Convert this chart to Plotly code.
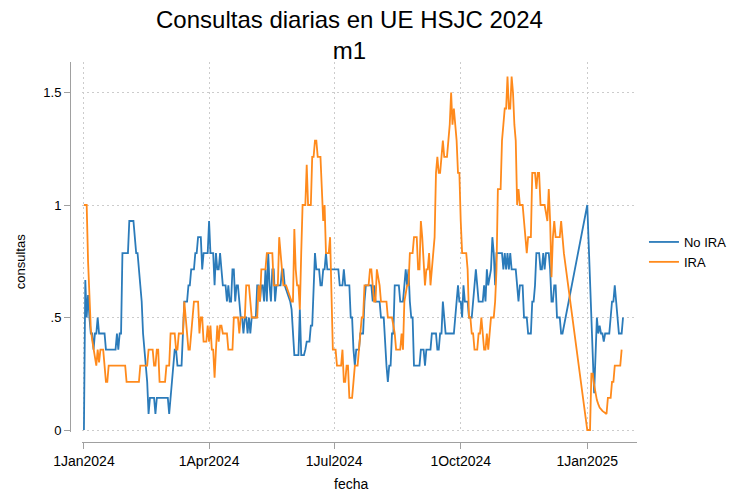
import pandas as pd
import plotly.graph_objects as go

# ---- data (day offset from 1 Jan 2024, value) ----
noira_day = [0, 1, 2, 3, 4, 5, 6, 7, 8, 9, 10, 11, 15, 16, 23, 24, 25, 26, 27, 28, 32, 33, 36, 37, 38, 39, 40, 41, 42, 43, 44, 45,
             46, 47, 48, 51, 52, 53, 61, 62, 63, 64, 65, 66, 67, 68, 71, 72, 73, 75, 76, 77, 78, 80, 81, 82, 83, 85, 86, 87, 89, 90,
             91, 92, 94, 95, 96, 97, 98, 99, 100, 101, 103, 104, 105, 106, 107, 108, 109, 110, 111, 112, 113, 114, 115, 116, 117,
             118, 119, 120, 121, 122, 125, 126, 127, 128, 129, 130, 131, 132, 133, 134, 135, 136, 137, 138, 139, 140, 143, 144, 145,
             146, 148, 150, 151, 152, 153, 156, 157, 158, 160, 161, 162, 164, 165, 166, 167, 168, 169, 171, 172, 173, 174, 175, 176,
             177, 185, 186, 188, 189, 190, 193, 194, 195, 196, 197, 198, 200, 201, 203, 204, 205, 209, 210, 211, 212, 215, 216, 218,
             219, 220, 221, 222, 223, 224, 225, 226, 229, 230, 232, 233, 234, 235, 236, 237, 238, 239, 240, 244, 245, 247, 248, 249,
             252, 253, 256, 257, 258, 259, 260, 261, 262, 263, 269, 270, 271, 272, 273, 274, 275, 276, 277, 279, 280, 282, 283, 284,
             285, 286, 287, 290, 291, 292, 293, 294, 296, 297, 298, 299, 300, 304, 305, 306, 307, 308, 309, 310, 311, 313, 314, 315,
             316, 317, 319, 320, 322, 323, 325, 326, 327, 328, 329, 331, 332, 333, 334, 335, 336, 338, 339, 340, 341, 342, 343, 344,
             346, 347, 348, 366, 371, 372, 373, 374, 375, 376, 377, 378, 379, 381, 382, 383, 384, 385, 386, 387, 388, 389, 391, 392]
noira_val = [0, 0.667, 0.5, 0.6, 0.5, 0.429, 0.429, 0.357, 0.429, 0.429, 0.5, 0.429, 0.429, 0.357, 0.357, 0.429, 0.357, 0.429,
             0.429, 0.786, 0.786, 0.929, 0.929, 0.857, 0.786, 0.786, 0.714, 0.643, 0.571, 0.429, 0.357, 0.286,
             0.214, 0.071, 0.143, 0.143, 0.071, 0.143, 0.143, 0.071, 0.143, 0.214, 0.286, 0.357, 0.357, 0.286, 0.286, 0.429, 0.571,
             0.571, 0.643, 0.643, 0.714, 0.714, 0.786, 0.786, 0.857, 0.857, 0.714, 0.786, 0.786, 0.786,
             0.929, 0.786, 0.786, 0.643, 0.786, 0.714, 0.714, 0.786, 0.714, 0.643, 0.643, 0.571, 0.643, 0.571, 0.571, 0.714, 0.714,
             0.571, 0.643, 0.643, 0.571, 0.5, 0.5, 0.429, 0.5,
             0.5, 0.429, 0.5, 0.429, 0.5, 0.5, 0.643, 0.643, 0.571, 0.643, 0.643, 0.571, 0.714, 0.571, 0.786, 0.643, 0.571, 0.714,
             0.714, 0.571, 0.643, 0.643, 0.714, 0.714,
             0.643, 0.607, 0.571, 0.536, 0.429, 0.333, 0.333, 0.536, 0.333, 0.333, 0.357, 0.393, 0.393, 0.464, 0.464, 0.643, 0.786,
             0.714, 0.714, 0.643, 0.643, 0.714, 0.714, 0.786,
             0.714, 0.714, 0.643, 0.643, 0.714, 0.643, 0.643, 0.5, 0.5, 0.357, 0.286, 0.357, 0.357, 0.429, 0.429, 0.571, 0.643,
             0.643, 0.571, 0.643, 0.571, 0.571, 0.5, 0.5,
             0.357, 0.286, 0.214, 0.286, 0.286, 0.429, 0.429, 0.643, 0.643, 0.571, 0.571, 0.643, 0.714, 0.643, 0.714, 0.571, 0.5,
             0.5, 0.286, 0.286, 0.357, 0.357, 0.286, 0.357,
             0.357, 0.429, 0.429, 0.357, 0.357, 0.429, 0.429, 0.571, 0.5, 0.429, 0.429, 0.5, 0.571, 0.643, 0.571, 0.571, 0.5, 0.643,
             0.571, 0.571, 0.5, 0.5, 0.571, 0.643,
             0.714, 0.643, 0.571, 0.571, 0.643, 0.571, 0.714, 0.643, 0.714, 0.857, 0.786, 0.643, 0.786, 0.786, 0.714, 0.786, 0.714,
             0.786, 0.714, 0.786, 0.714, 0.714, 0.714, 0.643,
             0.571, 0.643, 0.643, 0.5, 0.5, 0.429, 0.429, 0.571, 0.571, 0.643, 0.786, 0.786, 0.714, 0.714, 0.786, 0.714, 0.786,
             0.786, 0.714, 0.571, 0.571, 0.643, 0.643, 0.5,
             0.5, 0.429, 0.429, 1.0, 0.163, 0.33, 0.5, 0.429, 0.464, 0.429, 0.429, 0.393, 0.429, 0.429, 0.429, 0.5, 0.571, 0.571,
             0.643, 0.571, 0.5, 0.429, 0.429, 0.5]

ira_day = [0, 2, 3, 4, 5, 6, 7, 8, 9, 10, 11, 12, 14, 15, 16, 17, 18, 30, 31, 40, 41, 46, 47, 50, 51, 52, 53, 54, 55, 59, 60, 62,
           63, 66, 67, 68, 69, 72, 73, 74, 75, 76, 77, 78, 79, 80, 83, 84, 85, 86, 87, 89, 90, 91, 92, 93, 94, 95, 96, 97, 98, 99,
           100, 101, 104, 105, 108, 109, 112, 113, 114, 117, 118, 120, 121, 122, 125, 126, 127, 128, 129, 132, 133, 137, 138, 141,
           142, 143, 144, 145, 147, 149, 151, 152, 153, 154, 155, 156, 157, 158, 159, 161, 162, 163, 165, 166, 167, 168, 169, 170,
           172, 173, 174, 175, 176, 178, 179, 180, 181, 183, 184, 187, 188, 189, 190, 191, 192, 193, 195, 196, 197, 199, 200, 201,
           202, 203, 204, 207, 208, 209, 210, 211, 212, 213, 215, 216, 220, 221, 224, 226, 227, 230, 231, 232, 233, 235, 236, 237,
           239, 240, 242, 243, 244, 245, 246, 247, 248, 249, 250, 251, 252, 253, 254, 255, 256, 257, 258, 259, 260, 261, 262, 264,
           265, 266, 267, 268, 269, 270, 271, 272, 273, 274, 275, 278, 279, 280, 281, 282, 283, 284, 286, 287, 288, 289, 290, 291,
           292, 293, 294, 295, 296, 298, 299, 300, 301, 303, 304, 305, 306, 307, 308, 309, 310, 311, 312, 313, 314, 315, 316, 317,
           319, 320, 321, 322, 323, 325, 326, 328, 329, 330, 331, 332, 335, 337, 338, 339, 340, 341, 342, 343, 346, 347, 348, 349,
           366, 368, 369, 370, 371, 372, 373, 374, 375, 377, 379, 380, 381, 383, 384, 385, 386, 390, 391]
ira_val = [1.0, 1.0, 0.75, 0.6, 0.45, 0.4, 0.357, 0.333, 0.286, 0.357, 0.3, 0.357, 0.357, 0.286, 0.214, 0.214, 0.286, 0.286,
           0.214, 0.214, 0.286, 0.286, 0.357, 0.357, 0.286, 0.286, 0.357, 0.357, 0.214, 0.214, 0.286, 0.286,
           0.429, 0.429, 0.357, 0.357, 0.429, 0.429, 0.571, 0.5, 0.429, 0.357, 0.357, 0.429, 0.5, 0.571, 0.571, 0.429, 0.5, 0.5,
           0.393, 0.393, 0.464, 0.393, 0.464, 0.357, 0.357, 0.232, 0.357, 0.464, 0.393, 0.464,
           0.464, 0.429, 0.429, 0.357, 0.357, 0.5, 0.5, 0.429, 0.5, 0.5, 0.643, 0.643, 0.571, 0.5, 0.5, 0.5, 0.643, 0.571, 0.714,
           0.714, 0.786, 0.786, 0.643, 0.643,
           0.857, 0.786, 0.714, 0.643, 0.643, 0.607, 0.571, 0.571, 0.893, 0.714, 0.643, 0.643, 0.536, 0.786, 1.0, 1.0, 1.179,
           1.0, 1.0, 1.214, 1.214, 1.286, 1.286, 1.214,
           1.214, 1.071, 0.929, 1.0, 0.786, 0.786, 0.857, 0.607, 0.357, 0.357, 0.286, 0.286, 0.357, 0.214, 0.214, 0.286, 0.286,
           0.143, 0.143, 0.214, 0.286, 0.286, 0.357, 0.429,
           0.5, 0.5, 0.643, 0.643, 0.714, 0.714, 0.643, 0.571, 0.571, 0.714, 0.643, 0.571, 0.571, 0.5, 0.5, 0.429, 0.357, 0.357,
           0.429, 0.357, 0.571, 0.643, 0.643, 0.786,
           0.786, 0.857, 0.857, 0.714, 0.714, 0.929, 0.857, 0.714, 0.643, 0.714, 0.714, 0.786, 0.643, 0.714, 0.786, 0.857, 1.143,
           1.214, 1.143, 1.143, 1.214, 1.286, 1.214, 1.214,
           1.286, 1.357, 1.5, 1.357, 1.429, 1.357, 1.286, 1.143, 1.143, 0.929, 0.786, 0.786, 0.714, 0.5, 0.5, 0.429, 0.429, 0.357,
           0.357, 0.429, 0.429, 0.5, 0.429, 0.357,
           0.357, 0.429, 0.357, 0.429, 0.5, 0.5, 0.571, 0.714, 1.071, 1.071, 1.286, 1.357, 1.429, 1.429, 1.571, 1.429, 1.429,
           1.571, 1.5, 1.357, 1.286, 1.0, 1.071, 1.0,
           1.0, 0.929, 0.857, 0.786, 0.857, 0.857, 1.143, 1.143, 1.071, 1.143, 1.143, 1.0, 1.0, 0.929, 1.071, 0.929, 0.679, 0.857,
           0.929, 0.857, 0.857, 0.929, 0.857, 0.786,
           0, 0, 0.25, 0.25, 0.2, 0.163, 0.133, 0.115, 0.1, 0.085, 0.074, 0.071, 0.143, 0.143, 0.214, 0.214, 0.286, 0.286, 0.357]

tick_dates = ["2024-01-01", "2024-04-01", "2024-07-01", "2024-10-01", "2025-01-01"]
tick_labels = ["1Jan2024", "1Apr2024", "1Jul2024", "1Oct2024", "1Jan2025"]
y_ticks = [0, 0.5, 1, 1.5]
y_labels = ["0", ".5", "1", "1.5"]

base = pd.Timestamp("2024-01-01")
x_noira = base + pd.to_timedelta(noira_day, unit="D")
x_ira = base + pd.to_timedelta(ira_day, unit="D")

FONT = "Liberation Sans, Arial, sans-serif"
BLUE = "#2b7bba"
ORANGE = "#ff8a1c"
GRID = "#cccccc"

fig = go.Figure()
fig.add_trace(go.Scatter(x=x_noira, y=noira_val, mode="lines", name="No IRA",
                         line=dict(color=BLUE, width=1.8)))
fig.add_trace(go.Scatter(x=x_ira, y=ira_val, mode="lines", name="IRA",
                         line=dict(color=ORANGE, width=1.8)))

W, H = 744, 492
ml, mr, mt, mb = 70, 104, 62, 50
pw = W - ml - mr
ph = H - mt - mb
px_per_day = 506 / 366.0
x0 = base + pd.Timedelta(days=-(84 - 82) / px_per_day)
x1 = base + pd.Timedelta(days=(640 - 84) / px_per_day)


def px(xp):
    return (xp - ml) / pw


def py(yp):
    return (H - mb - yp) / ph


fig.update_layout(
    width=W, height=H,
    margin=dict(l=ml, r=mr, t=mt, b=mb),
    paper_bgcolor="white", plot_bgcolor="white",
    font=dict(family=FONT, color="#000000", size=13),
    showlegend=True,
    legend=dict(x=px(647), y=py(252), xanchor="left", yanchor="middle",
                font=dict(size=13, color="#000000"), bgcolor="rgba(0,0,0,0)",
                itemwidth=30, tracegroupgap=0),
    xaxis=dict(domain=[px(82), 1], anchor="free", position=0,
               range=[x0, x1], tickmode="array", tickvals=tick_dates, ticktext=tick_labels,
               showline=True, linecolor="#a0a0a0", linewidth=1,
               ticks="outside", ticklen=6, tickcolor="#a0a0a0",
               tickfont=dict(size=14, color="#000000"),
               showgrid=True, gridcolor=GRID, griddash="2px,3px", gridwidth=1,
               zeroline=False),
    yaxis=dict(domain=[py(432), 1], anchor="free", position=0,
               range=[-2 / 225.0, (430 - 62) / 225.0],
               tickmode="array", tickvals=y_ticks, ticktext=y_labels,
               showline=True, linecolor="#a0a0a0", linewidth=1,
               ticks="outside", ticklen=6, tickcolor="#a0a0a0",
               tickfont=dict(size=13, color="#000000"),
               showgrid=True, gridcolor=GRID, griddash="2px,3px", gridwidth=1,
               zeroline=False),
    annotations=[
        dict(text="Consultas diarias en UE HSJC 2024<br>m1", x=px(351), y=py(35), xref="paper", yref="paper",
             xanchor="center", yanchor="middle", align="center", showarrow=False,
             font=dict(size=24, color="#000000")),
        dict(text="fecha", x=px(352), y=py(484), xref="paper", yref="paper",
             xanchor="center", yanchor="middle", showarrow=False, font=dict(size=14, color="#000000")),
        dict(text="consultas", x=px(20), y=py(262), xref="paper", yref="paper", textangle=-90,
             xanchor="center", yanchor="middle", showarrow=False, font=dict(size=13, color="#000000")),
    ],
)

fig.write_html("out.html", config={"displayModeBar": False},
               post_script="document.body.style.margin='0';document.body.style.padding='0';")
